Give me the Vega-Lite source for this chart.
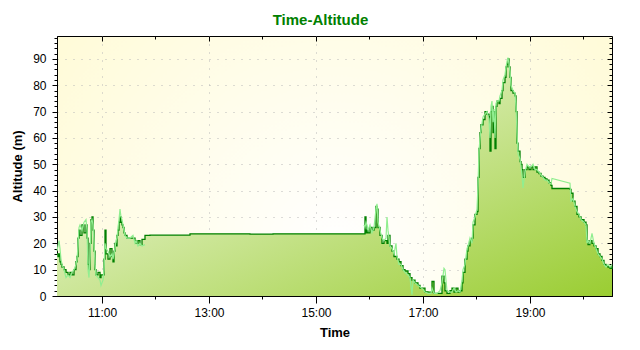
{
  "$schema": "https://vega.github.io/schema/vega-lite/v6.json",
  "width": 555,
  "height": 260,
  "autosize": {"type": "none"},
  "padding": {"left": 57, "top": 36, "right": 28, "bottom": 54},
  "background": "white",
  "title": {"text": "Time-Altitude", "font": "Liberation Sans", "fontSize": 15, "fontWeight": "bold", "color": "#008000", "anchor": "middle", "frame": "group", "dx": -14, "baseline": "alphabetic", "offset": -4},
  "config": {
    "view": {"stroke": "black", "strokeWidth": 1, "fill": {"gradient": "radial", "x1": 0.5, "y1": 0.65, "r1": 0, "x2": 0.5, "y2": 0.65, "r2": 0.75, "stops": [{"offset": 0, "color": "#ffffff"}, {"offset": 1, "color": "#fffad0"}]}},
    "axis": {"labelFont": "Liberation Sans", "titleFont": "Liberation Sans", "domainColor": "black", "tickColor": "black", "labelColor": "black", "titleColor": "black"}
  },
  "resolve": {"axis": {"x": "independent", "y": "independent"}},
  "data": {"values": [
    {"t":"2024-01-01T10:09:32","a":16,"b":17},
    {"t":"2024-01-01T10:10:39","a":15,"b":19},
    {"t":"2024-01-01T10:11:47","a":16,"b":21},
    {"t":"2024-01-01T10:12:54","a":13,"b":18},
    {"t":"2024-01-01T10:14:01","a":12,"b":14},
    {"t":"2024-01-01T10:15:08","a":11,"b":12},
    {"t":"2024-01-01T10:17:23","a":10,"b":10},
    {"t":"2024-01-01T10:19:38","a":9,"b":7},
    {"t":"2024-01-01T10:21:52","a":8,"b":8},
    {"t":"2024-01-01T10:24:07","a":9,"b":7},
    {"t":"2024-01-01T10:26:21","a":8,"b":9},
    {"t":"2024-01-01T10:28:36","a":10,"b":10},
    {"t":"2024-01-01T10:30:50","a":13,"b":12},
    {"t":"2024-01-01T10:31:58","a":15,"b":14},
    {"t":"2024-01-01T10:33:05","a":22,"b":19},
    {"t":"2024-01-01T10:34:13","a":25,"b":26},
    {"t":"2024-01-01T10:35:20","a":23,"b":27},
    {"t":"2024-01-01T10:37:34","a":27,"b":25},
    {"t":"2024-01-01T10:39:49","a":24,"b":28},
    {"t":"2024-01-01T10:42:04","a":27,"b":29},
    {"t":"2024-01-01T10:43:11","a":22,"b":25},
    {"t":"2024-01-01T10:44:18","a":12,"b":10},
    {"t":"2024-01-01T10:45:25","a":10,"b":7},
    {"t":"2024-01-01T10:46:32","a":20,"b":15},
    {"t":"2024-01-01T10:47:40","a":29,"b":28},
    {"t":"2024-01-01T10:48:47","a":30,"b":29},
    {"t":"2024-01-01T10:49:55","a":25,"b":27},
    {"t":"2024-01-01T10:51:02","a":17,"b":20},
    {"t":"2024-01-01T10:52:09","a":10,"b":12},
    {"t":"2024-01-01T10:53:16","a":8,"b":8},
    {"t":"2024-01-01T10:55:31","a":9,"b":7},
    {"t":"2024-01-01T10:57:46","a":7,"b":6},
    {"t":"2024-01-01T10:58:53","a":8,"b":4},
    {"t":"2024-01-01T11:01:07","a":8,"b":6},
    {"t":"2024-01-01T11:02:14","a":14,"b":10},
    {"t":"2024-01-01T11:03:22","a":25,"b":20},
    {"t":"2024-01-01T11:04:29","a":16,"b":18},
    {"t":"2024-01-01T11:06:44","a":14,"b":17},
    {"t":"2024-01-01T11:08:58","a":18,"b":15},
    {"t":"2024-01-01T11:11:13","a":15,"b":16},
    {"t":"2024-01-01T11:12:20","a":13,"b":14},
    {"t":"2024-01-01T11:13:28","a":17,"b":16},
    {"t":"2024-01-01T11:14:35","a":20,"b":18},
    {"t":"2024-01-01T11:15:42","a":19,"b":21},
    {"t":"2024-01-01T11:16:49","a":23,"b":22},
    {"t":"2024-01-01T11:17:56","a":25,"b":26},
    {"t":"2024-01-01T11:19:04","a":28,"b":29},
    {"t":"2024-01-01T11:20:11","a":30,"b":33},
    {"t":"2024-01-01T11:21:19","a":28,"b":30},
    {"t":"2024-01-01T11:22:26","a":27,"b":29},
    {"t":"2024-01-01T11:23:33","a":26,"b":27},
    {"t":"2024-01-01T11:24:40","a":24,"b":25},
    {"t":"2024-01-01T11:25:47","a":23,"b":23},
    {"t":"2024-01-01T11:28:02","a":22,"b":22},
    {"t":"2024-01-01T11:31:24","a":22,"b":22},
    {"t":"2024-01-01T11:34:46","a":22,"b":23},
    {"t":"2024-01-01T11:37:01","a":21,"b":20},
    {"t":"2024-01-01T11:38:08","a":20,"b":21},
    {"t":"2024-01-01T11:40:22","a":21,"b":19},
    {"t":"2024-01-01T11:42:37","a":19.5,"b":20},
    {"t":"2024-01-01T11:44:52","a":21.5,"b":19},
    {"t":"2024-01-01T11:48:13","a":23,"b":19.5},
    {"t":"2024-01-01T11:53:50","a":23.1,"b":null},
    {"t":"2024-01-01T12:38:41","a":23.6,"b":null},
    {"t":"2024-01-01T13:45:59","a":23.5,"b":null},
    {"t":"2024-01-01T14:11:47","a":23.6,"b":null},
    {"t":"2024-01-01T15:53:50","a":23.6,"b":27},
    {"t":"2024-01-01T15:54:57","a":30,"b":26},
    {"t":"2024-01-01T15:56:05","a":24,"b":28},
    {"t":"2024-01-01T15:57:12","a":25,"b":27},
    {"t":"2024-01-01T15:58:19","a":24,"b":25},
    {"t":"2024-01-01T16:00:34","a":26,"b":27},
    {"t":"2024-01-01T16:02:49","a":25,"b":24},
    {"t":"2024-01-01T16:05:03","a":26,"b":26},
    {"t":"2024-01-01T16:07:17","a":34,"b":33},
    {"t":"2024-01-01T16:08:25","a":33,"b":35},
    {"t":"2024-01-01T16:09:32","a":26,"b":28},
    {"t":"2024-01-01T16:11:47","a":23,"b":25},
    {"t":"2024-01-01T16:14:01","a":20,"b":22},
    {"t":"2024-01-01T16:16:16","a":21,"b":21},
    {"t":"2024-01-01T16:18:31","a":21,"b":22},
    {"t":"2024-01-01T16:19:38","a":20,"b":30},
    {"t":"2024-01-01T16:20:45","a":23,"b":25},
    {"t":"2024-01-01T16:22:59","a":19,"b":19},
    {"t":"2024-01-01T16:25:14","a":17,"b":18},
    {"t":"2024-01-01T16:27:29","a":15,"b":16},
    {"t":"2024-01-01T16:29:43","a":15,"b":20},
    {"t":"2024-01-01T16:30:50","a":14,"b":15},
    {"t":"2024-01-01T16:33:05","a":13,"b":12},
    {"t":"2024-01-01T16:35:20","a":11.5,"b":12},
    {"t":"2024-01-01T16:37:34","a":10,"b":10},
    {"t":"2024-01-01T16:39:49","a":9.5,"b":9},
    {"t":"2024-01-01T16:43:11","a":8.5,"b":8},
    {"t":"2024-01-01T16:45:25","a":7,"b":7},
    {"t":"2024-01-01T16:47:40","a":6,"b":0.5},
    {"t":"2024-01-01T16:48:47","a":6,"b":6},
    {"t":"2024-01-01T16:51:02","a":5,"b":5},
    {"t":"2024-01-01T16:54:23","a":4,"b":4},
    {"t":"2024-01-01T16:56:38","a":3,"b":3.5},
    {"t":"2024-01-01T17:00:00","a":3,"b":2.5},
    {"t":"2024-01-01T17:02:14","a":1.6,"b":1.5},
    {"t":"2024-01-01T17:05:37","a":1.5,"b":1},
    {"t":"2024-01-01T17:08:58","a":1.5,"b":1},
    {"t":"2024-01-01T17:10:06","a":5.5,"b":3},
    {"t":"2024-01-01T17:12:20","a":1,"b":1},
    {"t":"2024-01-01T17:15:42","a":1,"b":1},
    {"t":"2024-01-01T17:19:04","a":1,"b":2},
    {"t":"2024-01-01T17:21:19","a":7.5,"b":5},
    {"t":"2024-01-01T17:23:33","a":5,"b":10.5},
    {"t":"2024-01-01T17:24:40","a":2,"b":10},
    {"t":"2024-01-01T17:26:55","a":1,"b":2},
    {"t":"2024-01-01T17:30:17","a":2,"b":1.5},
    {"t":"2024-01-01T17:32:32","a":3,"b":1.5},
    {"t":"2024-01-01T17:34:46","a":1.5,"b":3},
    {"t":"2024-01-01T17:37:01","a":3,"b":1.5},
    {"t":"2024-01-01T17:39:15","a":1.5,"b":2},
    {"t":"2024-01-01T17:41:30","a":2,"b":1.5},
    {"t":"2024-01-01T17:43:44","a":5,"b":6},
    {"t":"2024-01-01T17:44:52","a":9,"b":10},
    {"t":"2024-01-01T17:47:06","a":14,"b":12},
    {"t":"2024-01-01T17:49:21","a":17,"b":18},
    {"t":"2024-01-01T17:50:28","a":19,"b":19},
    {"t":"2024-01-01T17:52:43","a":21,"b":22},
    {"t":"2024-01-01T17:54:58","a":22,"b":20},
    {"t":"2024-01-01T17:56:05","a":27,"b":28},
    {"t":"2024-01-01T17:58:19","a":31,"b":30},
    {"t":"2024-01-01T18:00:34","a":32,"b":33},
    {"t":"2024-01-01T18:01:41","a":45,"b":42},
    {"t":"2024-01-01T18:02:49","a":56,"b":55},
    {"t":"2024-01-01T18:03:56","a":62,"b":60},
    {"t":"2024-01-01T18:05:03","a":65,"b":63},
    {"t":"2024-01-01T18:07:17","a":67,"b":68},
    {"t":"2024-01-01T18:09:32","a":70,"b":69},
    {"t":"2024-01-01T18:11:47","a":69,"b":70},
    {"t":"2024-01-01T18:14:01","a":68,"b":67},
    {"t":"2024-01-01T18:15:08","a":55,"b":60},
    {"t":"2024-01-01T18:16:16","a":70,"b":72},
    {"t":"2024-01-01T18:17:23","a":72,"b":74},
    {"t":"2024-01-01T18:18:31","a":62,"b":66},
    {"t":"2024-01-01T18:19:38","a":70,"b":71},
    {"t":"2024-01-01T18:20:45","a":56,"b":60},
    {"t":"2024-01-01T18:21:52","a":72,"b":73},
    {"t":"2024-01-01T18:22:59","a":74,"b":74},
    {"t":"2024-01-01T18:25:14","a":73,"b":74},
    {"t":"2024-01-01T18:26:22","a":75,"b":76},
    {"t":"2024-01-01T18:28:36","a":78,"b":78},
    {"t":"2024-01-01T18:29:43","a":81,"b":82},
    {"t":"2024-01-01T18:31:58","a":83,"b":84},
    {"t":"2024-01-01T18:33:05","a":87,"b":87},
    {"t":"2024-01-01T18:34:13","a":88,"b":89},
    {"t":"2024-01-01T18:35:20","a":90,"b":90.5},
    {"t":"2024-01-01T18:36:27","a":87,"b":88},
    {"t":"2024-01-01T18:37:34","a":83,"b":85},
    {"t":"2024-01-01T18:38:41","a":78,"b":80},
    {"t":"2024-01-01T18:40:56","a":77,"b":78},
    {"t":"2024-01-01T18:43:11","a":76,"b":77},
    {"t":"2024-01-01T18:44:18","a":70,"b":72},
    {"t":"2024-01-01T18:45:25","a":58,"b":62},
    {"t":"2024-01-01T18:46:32","a":55,"b":54},
    {"t":"2024-01-01T18:48:47","a":51,"b":52},
    {"t":"2024-01-01T18:49:55","a":50,"b":49},
    {"t":"2024-01-01T18:51:02","a":48,"b":46},
    {"t":"2024-01-01T18:52:09","a":45,"b":41},
    {"t":"2024-01-01T18:54:23","a":48,"b":47},
    {"t":"2024-01-01T18:56:38","a":49,"b":50},
    {"t":"2024-01-01T18:58:53","a":48,"b":49},
    {"t":"2024-01-01T19:01:07","a":49,"b":49},
    {"t":"2024-01-01T19:03:22","a":48,"b":50},
    {"t":"2024-01-01T19:05:37","a":49,"b":48},
    {"t":"2024-01-01T19:07:51","a":47,"b":48},
    {"t":"2024-01-01T19:10:06","a":46.5,"b":47},
    {"t":"2024-01-01T19:12:20","a":45.5,"b":46},
    {"t":"2024-01-01T19:14:35","a":45,"b":45},
    {"t":"2024-01-01T19:16:49","a":44.5,"b":44},
    {"t":"2024-01-01T19:19:04","a":44,"b":44},
    {"t":"2024-01-01T19:21:19","a":43,"b":43},
    {"t":"2024-01-01T19:23:33","a":42,"b":42.5},
    {"t":"2024-01-01T19:24:41","a":40.8,"b":44.6},
    {"t":"2024-01-01T19:44:52","a":40.5,"b":42.8},
    {"t":"2024-01-01T19:45:59","a":39,"b":36},
    {"t":"2024-01-01T19:48:14","a":36,"b":37},
    {"t":"2024-01-01T19:50:28","a":34,"b":34},
    {"t":"2024-01-01T19:52:43","a":31,"b":32},
    {"t":"2024-01-01T19:54:58","a":30,"b":31},
    {"t":"2024-01-01T19:57:12","a":29,"b":29},
    {"t":"2024-01-01T20:00:34","a":28,"b":28},
    {"t":"2024-01-01T20:02:49","a":27,"b":27},
    {"t":"2024-01-01T20:03:56","a":21,"b":20},
    {"t":"2024-01-01T20:05:03","a":19.5,"b":21},
    {"t":"2024-01-01T20:07:17","a":21,"b":20},
    {"t":"2024-01-01T20:09:32","a":20,"b":23.8},
    {"t":"2024-01-01T20:11:47","a":19,"b":20},
    {"t":"2024-01-01T20:14:01","a":18,"b":18},
    {"t":"2024-01-01T20:16:16","a":16,"b":16},
    {"t":"2024-01-01T20:18:31","a":15,"b":15},
    {"t":"2024-01-01T20:20:45","a":13.5,"b":14},
    {"t":"2024-01-01T20:22:59","a":12,"b":12},
    {"t":"2024-01-01T20:25:14","a":11.5,"b":11},
    {"t":"2024-01-01T20:27:29","a":11,"b":12},
    {"t":"2024-01-01T20:29:43","a":10.5,"b":11},
    {"t":"2024-01-01T20:31:58","a":11.5,"b":12}
  ]},
  "layer": [
    {
      "mark": {"type": "area", "interpolate": "step-after", "color": {"gradient": "linear", "x1": 0, "y1": 0, "x2": 1, "y2": 1, "stops": [{"offset": 0, "color": "#ffffff"}, {"offset": 1, "color": "#9acd32"}]}},
      "encoding": {
        "x": {"field": "t", "type": "temporal", "scale": {"nice": false},
          "axis": {"orient": "bottom", "values": [{"year": 2024, "month": 1, "date": 1, "hours": 11}, {"year": 2024, "month": 1, "date": 1, "hours": 13}, {"year": 2024, "month": 1, "date": 1, "hours": 15}, {"year": 2024, "month": 1, "date": 1, "hours": 17}, {"year": 2024, "month": 1, "date": 1, "hours": 19}],
            "format": "%H:%M", "tickSize": 7, "labelFontSize": 12, "labelPadding": 4, "labelFlush": false, "grid": true, "gridColor": "#b8b8b8", "gridDash": [1, 7], "title": "Time", "titleFontSize": 13, "titleFontWeight": "bold", "titlePadding": 8}},
        "y": {"field": "a", "type": "quantitative", "scale": {"domain": [0, 98.7], "nice": false},
          "axis": {"orient": "left", "values": [0, 10, 20, 30, 40, 50, 60, 70, 80, 90], "tickSize": 5, "labelFontSize": 12, "labelPadding": 6, "grid": true, "gridColor": "#b8b8b8", "gridDash": [1, 7], "title": "Altitude (m)", "titleFontSize": 13, "titleFontWeight": "bold", "titlePadding": 8}}
      }
    },
    {
      "mark": {"type": "area", "interpolate": "step-after", "color": {"gradient": "linear", "x1": 0, "y1": 0, "x2": 1, "y2": 1, "stops": [{"offset": 0, "color": "#ffffff"}, {"offset": 1, "color": "#9acd32"}]}},
      "encoding": {
        "x": {"field": "t", "type": "temporal",
          "axis": {"orient": "top", "values": [{"year": 2024, "month": 1, "date": 1, "hours": 12}, {"year": 2024, "month": 1, "date": 1, "hours": 14}, {"year": 2024, "month": 1, "date": 1, "hours": 16}, {"year": 2024, "month": 1, "date": 1, "hours": 18}, {"year": 2024, "month": 1, "date": 1, "hours": 20}], "tickSize": -3, "labels": false, "domain": false, "grid": false, "title": null}},
        "y": {"field": "a", "type": "quantitative",
          "axis": {"orient": "right", "values": [0,2,4,6,8,10,12,14,16,18,20,22,24,26,28,30,32,34,36,38,40,42,44,46,48,50,52,54,56,58,60,62,64,66,68,70,72,74,76,78,80,82,84,86,88,90,92,94,96,98], "tickSize": -3, "labels": false, "domain": false, "grid": false, "title": null}}
      }
    },
    {
      "mark": {"type": "line", "interpolate": "step-after", "color": "#008000", "strokeWidth": 1.3},
      "encoding": {
        "x": {"field": "t", "type": "temporal",
          "axis": {"orient": "top", "values": [{"year": 2024, "month": 1, "date": 1, "hours": 11}, {"year": 2024, "month": 1, "date": 1, "hours": 13}, {"year": 2024, "month": 1, "date": 1, "hours": 15}, {"year": 2024, "month": 1, "date": 1, "hours": 17}, {"year": 2024, "month": 1, "date": 1, "hours": 19}], "tickSize": -5, "labels": false, "domain": false, "grid": false, "title": null}},
        "y": {"field": "a", "type": "quantitative",
          "axis": {"orient": "right", "values": [0, 10, 20, 30, 40, 50, 60, 70, 80, 90], "tickSize": -5, "labels": false, "domain": false, "grid": false, "title": null}}
      }
    },
    {
      "mark": {"type": "line", "color": "#90ee90", "strokeWidth": 1.2},
      "encoding": {
        "x": {"field": "t", "type": "temporal",
          "axis": {"orient": "bottom", "values": [{"year": 2024, "month": 1, "date": 1, "hours": 12}, {"year": 2024, "month": 1, "date": 1, "hours": 14}, {"year": 2024, "month": 1, "date": 1, "hours": 16}, {"year": 2024, "month": 1, "date": 1, "hours": 18}, {"year": 2024, "month": 1, "date": 1, "hours": 20}], "tickSize": 3, "labels": false, "domain": false, "grid": false, "title": null}},
        "y": {"field": "b", "type": "quantitative",
          "axis": {"orient": "left", "values": [0,2,4,6,8,10,12,14,16,18,20,22,24,26,28,30,32,34,36,38,40,42,44,46,48,50,52,54,56,58,60,62,64,66,68,70,72,74,76,78,80,82,84,86,88,90,92,94,96,98], "tickSize": 3, "labels": false, "domain": false, "grid": false, "title": null}}
      }
    }
  ]
}
